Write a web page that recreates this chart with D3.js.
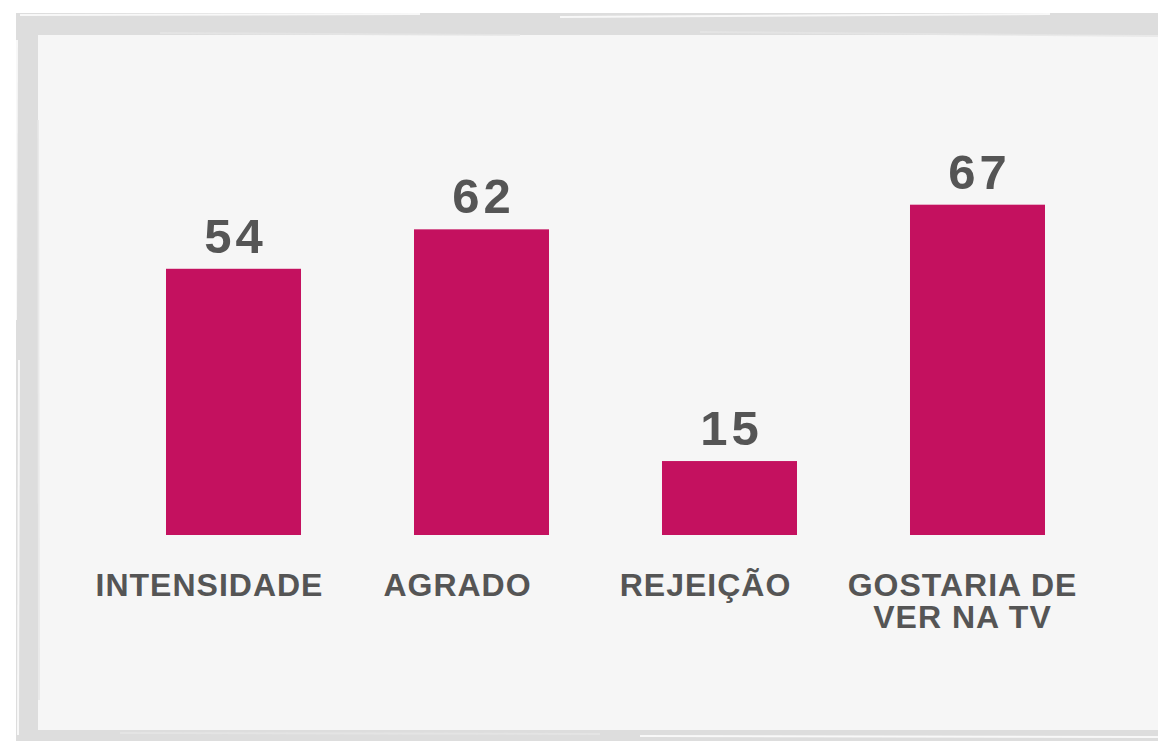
<!DOCTYPE html>
<html>
<head>
<meta charset="utf-8">
<script src="https://cdn.jsdelivr.net/npm/d3@7"></script>
<style>
  body { margin: 0; background: #fff; }
  svg { display: block; }
</style>
</head>
<body>
<script>
const categories = ['INTENSIDADE', 'AGRADO', 'REJEIÇÃO', 'GOSTARIA DE|VER NA TV']
const values = [54, 62, 15, 67]

const width = 1158
const height = 741
const barColor = '#c4115f'
const textColor = '#555555'

const svg = d3.select('body')
  .append('svg')
  .attr('width', width)
  .attr('height', height)

// panel with a rough brush-like frame
const frame = svg.append('g').attr('class', 'frame')
frame.append('rect')
  .attr('x', 27).attr('y', 24)
  .attr('width', width + 20).attr('height', 717)
  .attr('fill', '#f6f6f6')
  .attr('stroke', '#dddddd')
  .attr('stroke-width', 22)

// a few streaks to break up the frame edges
const streaks = [
  [20, 15, 420, 14], [160, 33, 520, 35], [560, 17, 1050, 14], [700, 32, 1158, 36],
  [17, 40, 16, 320], [38, 120, 39, 700], [19, 360, 18, 735], [120, 733, 600, 734],
  [640, 736, 1158, 737]
]
frame.selectAll('line.streak')
  .data(streaks)
  .enter()
  .append('line')
  .attr('class', 'streak')
  .attr('x1', d => d[0]).attr('y1', d => d[1])
  .attr('x2', d => d[2]).attr('y2', d => d[3])
  .attr('stroke', (d, i) => i % 2 ? '#e6e6e6' : '#ffffff')
  .attr('stroke-width', 2)
  .attr('opacity', 0.8)

const x = d3.scaleBand()
  .domain(categories)
  .range([116.4, 1094.6])
  .paddingInner(0.4556)
  .paddingOuter(0.2)

const y = d3.scaleLinear()
  .domain([0, 100])
  .range([535, 42])

svg.append('g')
  .attr('class', 'bars')
  .selectAll('rect')
  .data(values)
  .enter()
  .append('rect')
  .attr('x', (d, i) => x(categories[i]))
  .attr('y', d => y(d))
  .attr('width', x.bandwidth())
  .attr('height', d => y(0) - y(d))
  .attr('fill', barColor)

svg.append('g')
  .attr('class', 'values')
  .selectAll('text')
  .data(values)
  .enter()
  .append('text')
  .attr('x', (d, i) => x(categories[i]) + x.bandwidth() / 2 + 2)
  .attr('y', d => y(d) - 16)
  .attr('text-anchor', 'middle')
  .attr('font-family', 'Liberation Sans, Arial, sans-serif')
  .attr('font-weight', 'bold')
  .attr('font-size', 49)
  .attr('letter-spacing', 4)
  .attr('fill', textColor)
  .text(d => d)

const labels = svg.append('g')
  .attr('class', 'labels')
  .selectAll('text')
  .data(categories)
  .enter()
  .append('text')
  .attr('x', d => x(d) + x.bandwidth() / 2 - 24)
  .attr('y', 596)
  .attr('text-anchor', 'middle')
  .attr('font-family', 'Liberation Sans, Arial, sans-serif')
  .attr('font-weight', 'bold')
  .attr('font-size', 32)
  .attr('letter-spacing', 1)
  .attr('fill', textColor)

labels.selectAll('tspan')
  .data(d => d.split('|').map(t => ({ t, cx: x(d) + x.bandwidth() / 2 - 15 })))
  .enter()
  .append('tspan')
  .attr('x', (d, i, n) => n.length > 1 ? d.cx : null)
  .attr('dy', (d, i) => i === 0 ? 0 : 32)
  .text(d => d.t)
</script>
</body>
</html>
